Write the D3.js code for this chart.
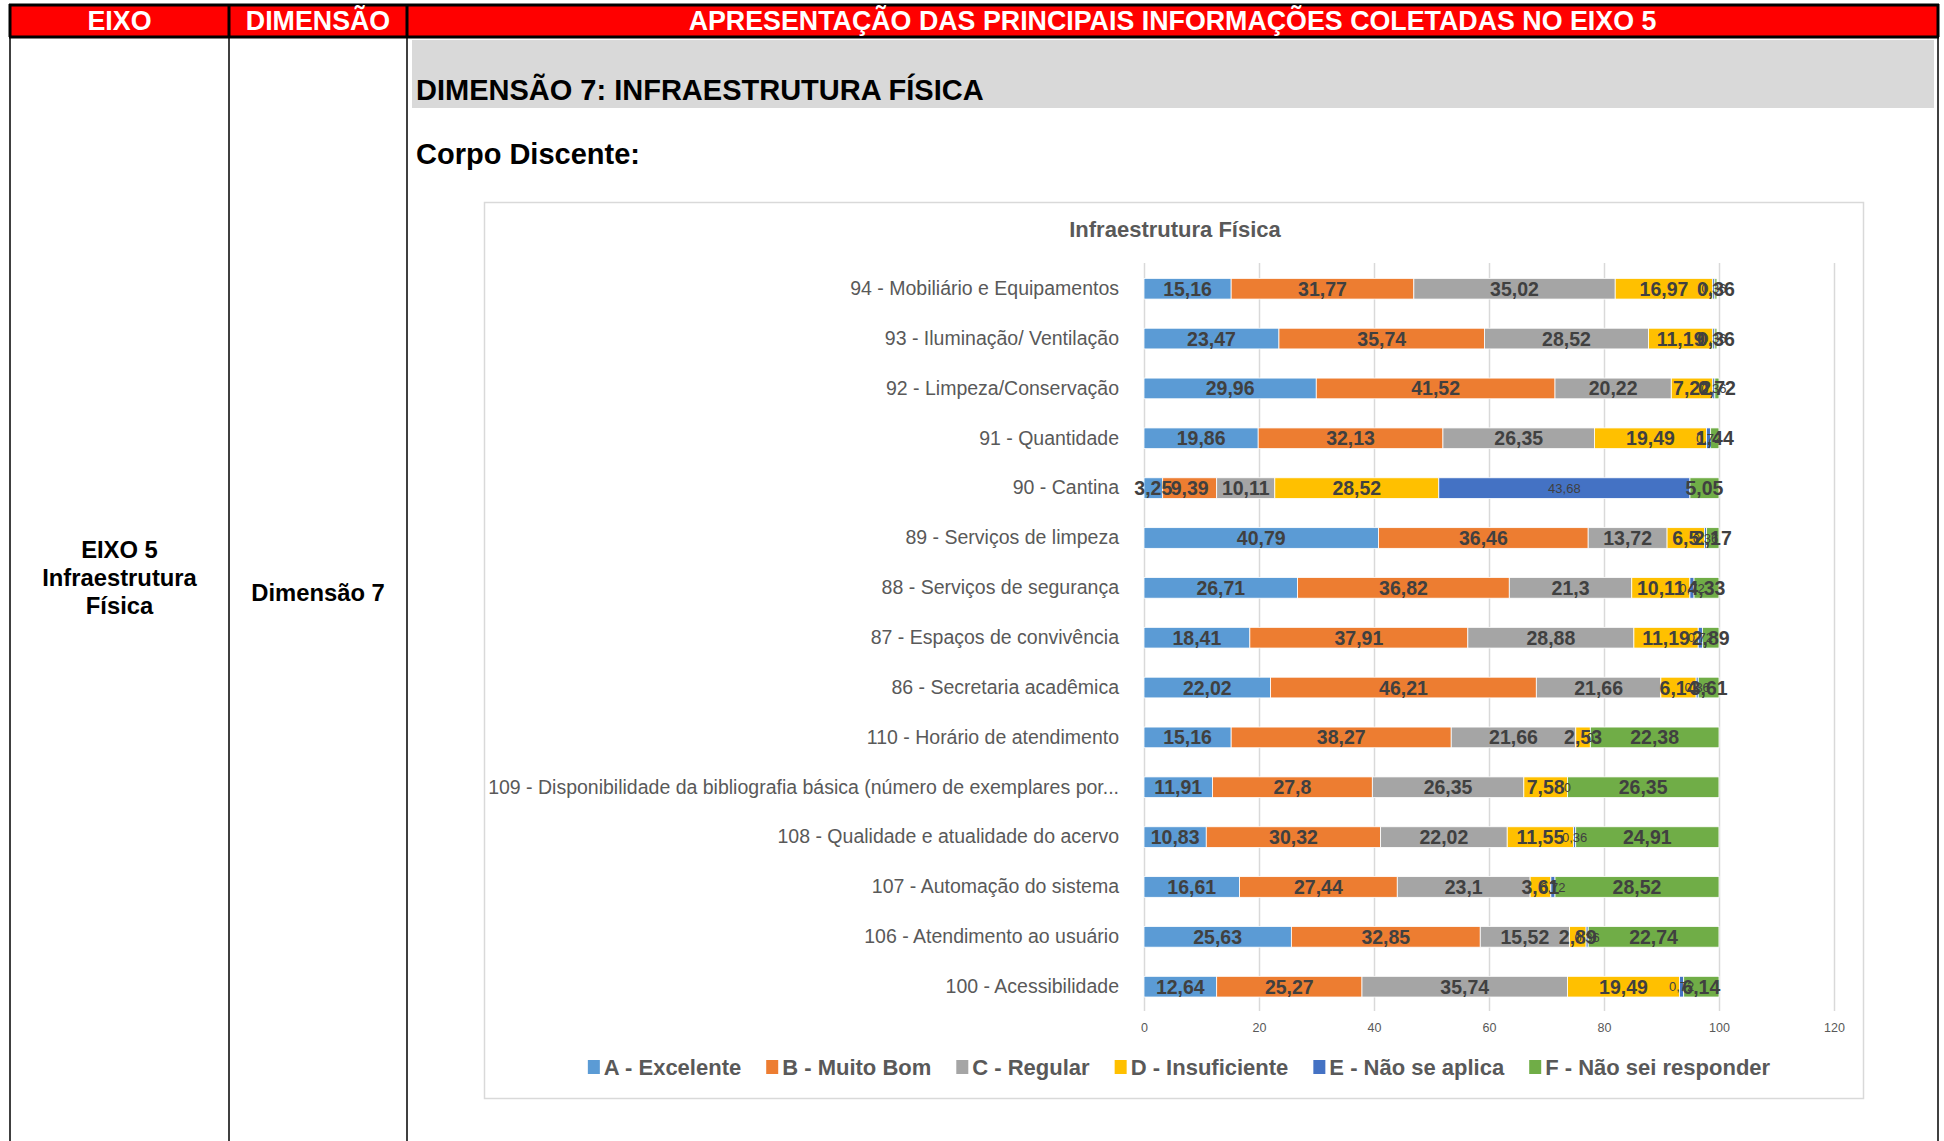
<!DOCTYPE html>
<html>
<head>
<meta charset="utf-8">
<script src="https://cdn.jsdelivr.net/npm/d3@7"></script>
<style>
body { margin: 0; background: #fff; }
svg { display: block; }
</style>
</head>
<body>
<svg id="imagen" width="1944" height="1141"></svg>
<script>
// categorias de cima para baixo
const categories = [
	"94 - Mobiliário e Equipamentos",
	"93 - Iluminação/ Ventilação",
	"92 - Limpeza/Conservação",
	"91 - Quantidade",
	"90 - Cantina",
	"89 - Serviços de limpeza",
	"88 - Serviços de segurança",
	"87 - Espaços de convivência",
	"86 - Secretaria acadêmica",
	"110 - Horário de atendimento",
	"109 - Disponibilidade da bibliografia básica (número de exemplares por...",
	"108 - Qualidade e atualidade do acervo",
	"107 - Automação do sistema",
	"106 - Atendimento ao usuário",
	"100 - Acessibilidade"
];
const serieA = [15.16, 23.47, 29.96, 19.86, 3.25, 40.79, 26.71, 18.41, 22.02, 15.16, 11.91, 10.83, 16.61, 25.63, 12.64];
const serieB = [31.77, 35.74, 41.52, 32.13, 9.39, 36.46, 36.82, 37.91, 46.21, 38.27, 27.8, 30.32, 27.44, 32.85, 25.27];
const serieC = [35.02, 28.52, 20.22, 26.35, 10.11, 13.72, 21.3, 28.88, 21.66, 21.66, 26.35, 22.02, 23.1, 15.52, 35.74];
const serieD = [16.97, 11.19, 7.22, 19.49, 28.52, 6.5, 10.11, 11.19, 6.14, 2.53, 7.58, 11.55, 3.61, 2.89, 19.49];
const serieE = [0.36, 0.36, 0.36, 0.72, 43.68, 0.36, 0.72, 0.72, 0.36, 0, 0, 0.36, 0.72, 0.36, 0.72];
const serieF = [0.36, 0.36, 0.72, 1.44, 5.05, 2.17, 4.33, 2.89, 3.61, 22.38, 26.35, 24.91, 28.52, 22.74, 6.14];
const seriesNames = ["A - Excelente", "B - Muito Bom", "C - Regular", "D - Insuficiente", "E - Não se aplica", "F - Não sei responder"];
const tickValues = [0, 20, 40, 60, 80, 100, 120];

const cores = ["#5b9bd5", "#ed7d31", "#a5a5a5", "#ffc000", "#4472c4", "#70ad47"];
const fonte = "'Liberation Sans', Arial, sans-serif";

const svg = d3.select("#imagen");

// ---- tabela do documento ----
var H = 1141;
var colX = [10, 229, 407, 1938];

svg.append("rect")
	.attr("x", colX[0]).attr("y", 5)
	.attr("width", colX[3] - colX[0]).attr("height", 32)
	.attr("fill", "#ff0000");

// bordas
svg.append("line").attr("x1", 9).attr("x2", 1939).attr("y1", 5).attr("y2", 5)
	.attr("stroke", "#000").attr("stroke-width", 3);
svg.append("line").attr("x1", 9).attr("x2", 1939).attr("y1", 37).attr("y2", 37)
	.attr("stroke", "#000").attr("stroke-width", 3);
colX.forEach(x => {
	svg.append("line").attr("x1", x).attr("x2", x).attr("y1", 4).attr("y2", 37)
		.attr("stroke", "#000").attr("stroke-width", 3);
	svg.append("line").attr("x1", x).attr("x2", x).attr("y1", 37).attr("y2", H)
		.attr("stroke", "#000").attr("stroke-width", 1.5);
});

var cab = [
	{ t: "EIXO", x: (colX[0] + colX[1]) / 2 },
	{ t: "DIMENSÃO", x: (colX[1] + colX[2]) / 2 },
	{ t: "APRESENTAÇÃO DAS PRINCIPAIS INFORMAÇÕES COLETADAS NO EIXO 5", x: (colX[2] + colX[3]) / 2 }
];
svg.append("g").selectAll("text").data(cab).join("text")
	.attr("x", d => d.x).attr("y", 29.5)
	.attr("text-anchor", "middle")
	.attr("font-family", fonte).attr("font-weight", "bold").attr("font-size", 26.8)
	.attr("fill", "#fff")
	.text(d => d.t);

svg.append("g").selectAll("text").data(["EIXO 5", "Infraestrutura", "Física"]).join("text")
	.attr("x", (colX[0] + colX[1]) / 2).attr("y", (d, i) => 558 + i * 28)
	.attr("text-anchor", "middle")
	.attr("font-family", fonte).attr("font-weight", "bold").attr("font-size", 23.8)
	.text(d => d);
svg.append("text")
	.attr("x", (colX[1] + colX[2]) / 2).attr("y", 601)
	.attr("text-anchor", "middle")
	.attr("font-family", fonte).attr("font-weight", "bold").attr("font-size", 23.8)
	.text("Dimensão 7");

svg.append("rect").attr("x", 412).attr("y", 40).attr("width", 1522).attr("height", 68)
	.attr("fill", "#d9d9d9");
svg.append("text").attr("x", 416).attr("y", 100)
	.attr("font-family", fonte).attr("font-weight", "bold").attr("font-size", 29)
	.text("DIMENSÃO 7: INFRAESTRUTURA FÍSICA");
svg.append("text").attr("x", 416).attr("y", 164)
	.attr("font-family", fonte).attr("font-weight", "bold").attr("font-size", 29)
	.text("Corpo Discente:");

// ---- grafico ----
svg.append("rect").attr("x", 484.5).attr("y", 202.5).attr("width", 1379).attr("height", 896)
	.attr("fill", "#fff").attr("stroke", "#d9d9d9").attr("stroke-width", 1.5);

svg.append("text").attr("x", 1175).attr("y", 237)
	.attr("text-anchor", "middle")
	.attr("font-family", fonte).attr("font-weight", "bold").attr("font-size", 22)
	.attr("fill", "#595959")
	.text("Infraestrutura Física");

var x = d3.scaleLinear().domain([0, 120]).range([1144, 1834]);
var y = d3.scaleBand().domain(categories).range([263.8, 1011.6])
	.paddingInner(0.585).paddingOuter(0.2925);

var grid = svg.append("g")
	.attr("transform", `translate(0,${1011})`)
	.call(d3.axisBottom(x).tickValues(tickValues).tickSize(-748).tickPadding(12).tickFormat(d3.format("d")))
	.call(g => g.select(".domain").remove());
grid.selectAll(".tick line").attr("stroke", "#d9d9d9").attr("stroke-width", 1.5);
grid.selectAll(".tick text").attr("font-family", fonte).attr("font-size", 12.5).attr("fill", "#595959");

var yAxis = svg.append("g")
	.attr("transform", `translate(${x(0)},0)`)
	.call(d3.axisLeft(y).tickSize(0).tickPadding(25))
	.call(g => g.select(".domain").remove());
yAxis.selectAll(".tick text").attr("font-family", fonte).attr("font-size", 19.5).attr("fill", "#595959");

// empilhamento
var valores = [serieA, serieB, serieC, serieD, serieE, serieF];
var tabela = categories.map((c, i) => {
	var o = { cat: c };
	seriesNames.forEach((s, k) => { o[s] = valores[k][i]; });
	return o;
});
var pilha = d3.stack().keys(seriesNames)(tabela);
var cor = d3.scaleOrdinal().domain(seriesNames).range(cores);
var fmt = v => String(v).replace(".", ",");

var camadas = svg.append("g").selectAll("g").data(pilha).join("g")
	.attr("fill", d => cor(d.key));
camadas.selectAll("rect").data(d => d).join("rect")
	.attr("x", d => x(d[0]))
	.attr("y", d => y(d.data.cat))
	.attr("width", d => x(d[1]) - x(d[0]))
	.attr("height", y.bandwidth())
	.attr("stroke", "#fff").attr("stroke-width", 0.8);

var rotulos = svg.append("g").selectAll("g").data(pilha).join("g");
rotulos.each(function(serie) {
	var pequeno = serie.key === seriesNames[4];
	d3.select(this).selectAll("text").data(serie).join("text")
		.attr("x", d => x((d[0] + d[1]) / 2))
		.attr("y", d => y(d.data.cat) + y.bandwidth() / 2)
		.attr("dy", "0.36em")
		.attr("text-anchor", "middle")
		.attr("font-family", fonte)
		.attr("font-weight", pequeno ? "normal" : "bold")
		.attr("font-size", pequeno ? 13 : 19.5)
		.attr("fill", "#404040")
		.text(d => fmt(d[1] - d[0] < 0.001 ? 0 : +(d[1] - d[0]).toFixed(2)));
});

// legenda
var leg = svg.append("g").attr("font-family", fonte).attr("font-weight", "bold").attr("font-size", 22).attr("fill", "#595959");
var itens = leg.selectAll("g").data(seriesNames).join("g");
itens.append("rect").attr("y", -7).attr("width", 12).attr("height", 14).attr("fill", cor);
itens.append("text").attr("x", 16).attr("dy", "0.35em").text(d => d);
var pos = 0, inicio = [];
itens.each(function() {
	var w = 16 + d3.select(this).select("text").node().getComputedTextLength();
	inicio.push(pos);
	pos += w + 25;
});
var total = pos - 25;
itens.attr("transform", (d, i) => `translate(${1179 - total / 2 + inicio[i]},${1067})`);
</script>
</body>
</html>
